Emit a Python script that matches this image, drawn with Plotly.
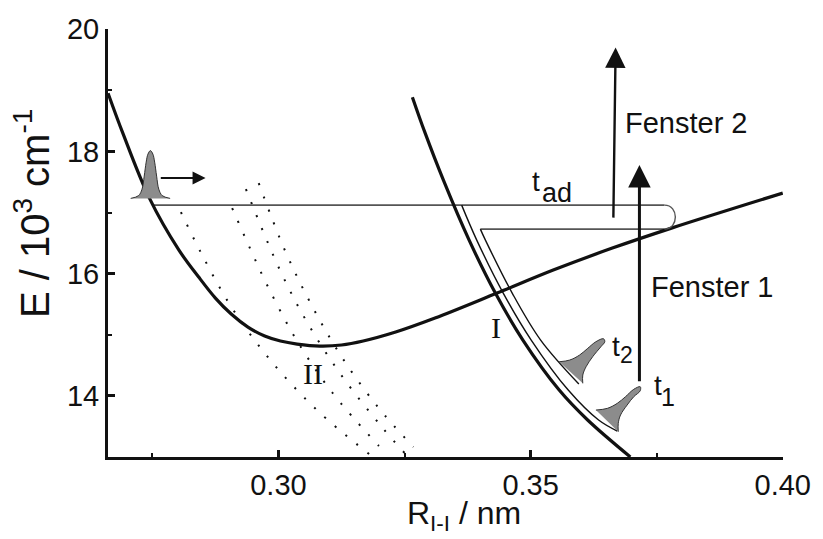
import plotly.graph_objects as go

# ---------------- data (R in nm, E in 10^3 cm^-1) ----------------
curve_II_R = [0.26621, 0.26914, 0.27441, 0.28027, 0.28418, 0.28750, 0.29063, 0.29395,
              0.29727, 0.30039, 0.30371, 0.30820, 0.31250, 0.31680, 0.32324, 0.33105,
              0.34336, 0.35449, 0.36621, 0.37793, 0.40000]
curve_II_E = [18.953, 18.299, 17.236, 16.385, 15.944, 15.600, 15.339, 15.126,
              14.979, 14.897, 14.848, 14.815, 14.832, 14.897, 15.044, 15.273,
              15.682, 16.058, 16.418, 16.745, 17.318]

curve_I_R = [0.32656, 0.32902, 0.33271, 0.33781, 0.34301, 0.34847, 0.35567, 0.36131, 0.36978]
curve_I_E = [18.888, 18.315, 17.530, 16.549, 15.682, 14.913, 14.095, 13.605, 13.000]

dot_A_R = [0.28066, 0.28457, 0.29043, 0.29805, 0.30762, 0.31797]
dot_A_E = [17.007, 16.353, 15.486, 14.619, 13.768, 13.049]
dot_B_R = [0.29082, 0.29434, 0.29805, 0.30371, 0.31074, 0.31992]
dot_B_E = [17.072, 16.418, 15.764, 14.897, 14.047, 13.180]
dot_C_R = [0.29355, 0.30020, 0.30566, 0.31230, 0.32051, 0.32520]
dot_C_E = [17.383, 16.075, 15.208, 14.357, 13.490, 13.049]
dot_D_R = [0.29609, 0.30117, 0.30625, 0.31230, 0.31973, 0.32676]
dot_D_E = [17.481, 16.402, 15.535, 14.668, 13.817, 13.163]

# adiabatic path t_ad
path_upper_R = [0.27500, 0.37656]
path_upper_E = [17.121, 17.121]
path_lower_R = [0.34004, 0.37656]
path_lower_E = [16.729, 16.729]
turn_R = 0.37942          # extent of the U-turn
track1_R = [0.33633, 0.33932, 0.34457, 0.35012, 0.35746, 0.36348, 0.36719]
track1_E = [17.121, 16.549, 15.682, 14.913, 14.095, 13.605, 13.425]
track2_R = [0.34004, 0.34104, 0.34635, 0.35199, 0.35957]
track2_E = [16.729, 16.549, 15.682, 14.913, 14.194]

# wave packets (outlines)
wp0_R = [0.27070, 0.27227, 0.27295, 0.27338, 0.27377, 0.27412, 0.27461, 0.27510,
         0.27545, 0.27584, 0.27627, 0.27695, 0.27852]
wp0_E = [17.231, 17.277, 17.383, 17.596, 17.825, 17.956, 18.013, 17.956,
         17.825, 17.596, 17.383, 17.277, 17.231]
wp2_R = [0.35566, 0.35775, 0.35971, 0.36133, 0.36295, 0.36445, 0.36471, 0.36393,
         0.36230, 0.36100, 0.36035, 0.36035]
wp2_E = [14.558, 14.586, 14.668, 14.778, 14.886, 14.935, 14.886, 14.804,
         14.640, 14.477, 14.341, 14.205]
wp1_R = [0.36295, 0.36523, 0.36719, 0.36881, 0.37045, 0.37174, 0.37174, 0.37045,
         0.36914, 0.36783, 0.36738, 0.36738]
wp1_E = [13.768, 13.796, 13.878, 13.986, 14.107, 14.150, 14.084, 13.986,
         13.850, 13.687, 13.551, 13.413]

# arrows: (R_tail, E_tail, R_head, E_head)
move_arrow = (0.27637, 17.563, 0.28555, 17.563)
fenster1 = (0.37158, 14.215, 0.37158, 17.776)
fenster2 = (0.36641, 16.892, 0.36686, 19.701)

x_ticks = [0.30, 0.35, 0.40]
y_ticks = [14, 16, 18, 20]

# ---------------- figure ----------------
W, H = 823, 539
ML, MR, MT, MB = 108, 30, 29, 82
BLACK = '#111111'
SANS = 'Liberation Sans, Arial, sans-serif'
SERIF = 'Liberation Serif, Times New Roman, serif'

fig = go.Figure()


def add_line(R, E, width, color, dash=None, shape='spline'):
    fig.add_trace(go.Scatter(x=R, y=E, mode='lines',
                             line=dict(width=width, color=color, dash=dash, shape=shape),
                             hoverinfo='skip', showlegend=False))


for R, E in [(dot_A_R, dot_A_E), (dot_B_R, dot_B_E), (dot_C_R, dot_C_E), (dot_D_R, dot_D_E)]:
    add_line(R, E, 2, BLACK, dash='2px,12px')

add_line(path_upper_R, path_upper_E, 1.6, '#555555', shape='linear')
add_line(path_lower_R, path_lower_E, 1.6, '#555555', shape='linear')
add_line(track1_R, track1_E, 1.4, BLACK)
add_line(track2_R, track2_E, 1.4, BLACK)

# U-turn at the right end of the loop
fig.add_shape(type='path', xref='x', yref='y',
              path=(f'M{path_upper_R[1]},{path_upper_E[1]} '
                    f'C{turn_R},{path_upper_E[1]} {turn_R},{path_lower_E[1]} '
                    f'{path_lower_R[1]},{path_lower_E[1]}'),
              line=dict(color='#555555', width=1.4))

add_line(curve_II_R, curve_II_E, 3.2, BLACK)
add_line(curve_I_R, curve_I_E, 3.2, BLACK)

for R, E in [(wp0_R, wp0_E), (wp1_R, wp1_E), (wp2_R, wp2_E)]:
    fig.add_trace(go.Scatter(x=R, y=E, mode='lines', fill='toself', fillcolor='#8c8c8c',
                             line=dict(width=1, color='#333333', shape='spline'),
                             hoverinfo='skip', showlegend=False))


def arrow(a, width, size):
    fig.add_annotation(x=a[2], y=a[3], ax=a[0], ay=a[1], xref='x', yref='y',
                       axref='x', ayref='y', text='', showarrow=True,
                       arrowhead=2, arrowsize=size, arrowwidth=width,
                       arrowcolor=BLACK, standoff=0, startstandoff=0)


arrow(move_arrow, 2, 1.3)
arrow(fenster1, 3, 1.5)
arrow(fenster2, 2.4, 1.7)


def px(xp):
    return (xp - ML) / (W - ML - MR)


def py(yp):
    return (H - MB - yp) / (H - MT - MB)


def text(t, xp, yp, size, font=SANS, xanchor='left', angle=0):
    fig.add_annotation(x=px(xp), y=py(yp), xref='paper', yref='paper', text=t,
                       showarrow=False, xanchor=xanchor, yanchor='middle',
                       textangle=angle, font=dict(family=font, size=size, color=BLACK))


text('Fenster 2', 631, 123, 29)
text('Fenster 1', 657, 287, 29)
text('t', 536, 181, 28)
text('ad', 546, 193, 27)
text('t', 660, 385, 28)
text('1', 667, 397, 25)
text('t', 617, 346, 28)
text('2', 626, 355, 23)
text('I', 495, 327, 30, font=SERIF)
text('II', 304, 373, 30, font=SERIF)
text('R<sub>I-I</sub> / nm', 409, 515, 32)
text('E / 10<sup>3</sup> cm<sup>-1</sup>', 31, 214, 40, xanchor='center', angle=-90)

axis_common = dict(showgrid=False, zeroline=False, showline=True, linewidth=3,
                   linecolor=BLACK, ticks='inside', ticklen=7, tickwidth=2.5,
                   tickcolor=BLACK, mirror=False,
                   tickfont=dict(family=SANS, size=29, color=BLACK))

fig.update_xaxes(range=[0.2662, 0.40005], tickmode='array', tickvals=x_ticks,
                 ticktext=[f'{v:.2f}' for v in x_ticks],
                 minor=dict(dtick=0.025, tick0=0.275, ticks='inside', ticklen=4,
                            tickwidth=2, tickcolor=BLACK),
                 **axis_common)
fig.update_yaxes(range=[13, 20.003], tickmode='array', tickvals=y_ticks,
                 ticktext=[str(v) for v in y_ticks],
                 minor=dict(dtick=1, tick0=13, ticks='inside', ticklen=4,
                            tickwidth=2, tickcolor=BLACK),
                 **axis_common)

fig.update_layout(width=W, height=H, margin=dict(l=ML, r=MR, t=MT, b=MB),
                  paper_bgcolor='white', plot_bgcolor='white', showlegend=False)

fig.write_html('out.html')
